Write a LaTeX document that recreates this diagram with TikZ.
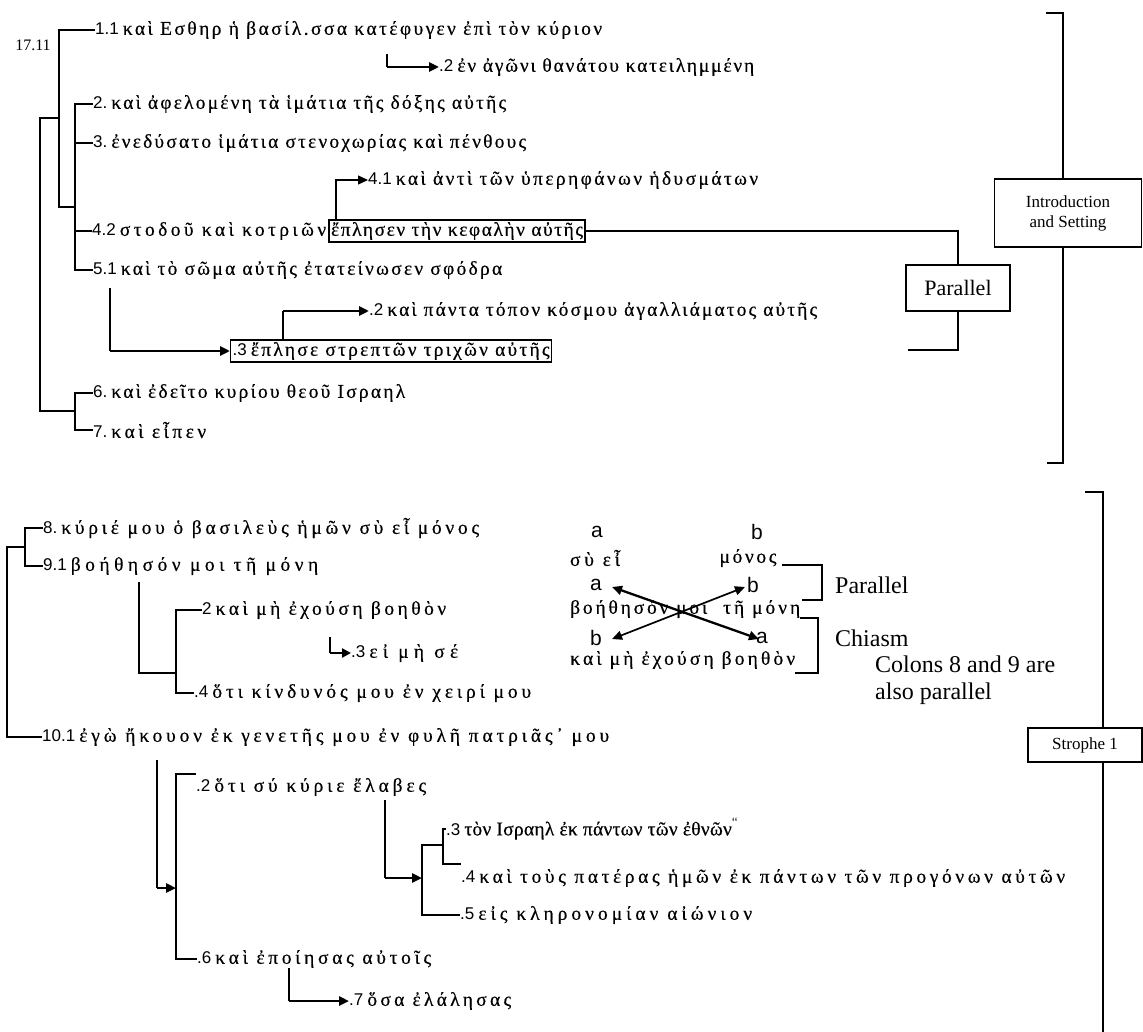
\documentclass[tikz,border=0pt]{standalone}
\usepackage{fontspec}
\setmainfont{Liberation Serif}
\newfontfamily\numf{Liberation Sans}
\newfontfamily\grkf[FakeBold=0.4]{Liberation Serif}
\usetikzlibrary{arrows.meta}
\newlength\Wn \newlength\Wa \newlength\Wb
\newcommand\gsz{\fontsize{19.5}{22}\selectfont}
\newcommand\nsz{\fontsize{17}{20}\selectfont}
% Greek text letter-spaced to a given width
\newcommand\gw[2]{%
  \settowidth\Wa{\grkf\gsz #2}%
  \settowidth\Wb{\grkf\gsz\addfontfeature{LetterSpace=10}#2}%
  \pgfmathsetmacro\lsv{max(-3,10*(#1-\Wa)/(\Wb-\Wa))}%
  {\grkf\gsz\addfontfeature{LetterSpace=\lsv}#2}}
% numbered line: number, total width, Greek text
\newcommand\glw[3]{%
  \settowidth\Wn{\numf\nsz #1\hspace{4pt}}%
  {\numf\nsz #1}\hspace{4pt}\gw{#2-\Wn}{#3}}
\tikzset{
  ln/.style={line width=1.3pt},
  thk/.style={line width=2.6pt},
  tip/.style={-{Triangle[length=10pt,width=9pt]}},
  dtip/.style={{Triangle[length=10pt,width=9pt]}-{Triangle[length=10pt,width=9pt]}},
  gt/.style={anchor=west,inner sep=0pt},
  bx/.style={draw,line width=1.3pt,inner sep=2pt},
  lab/.style={inner sep=0pt,font=\fontsize{24}{27}\selectfont},
  sm/.style={inner sep=0pt,font=\numf\fontsize{21}{23}\selectfont},
  gc/.style={inner sep=0pt},
}
\begin{document}
\begin{tikzpicture}[x=1pt,y=-1pt]
\useasboundingbox (0,0) rectangle (1143,1032);
% ---------------- top section ----------------
\node[inner sep=0pt,font=\fontsize{16}{18}\selectfont] (n1711) at (33,45) {17.11};
\node[gt] (t11) at (95,30) {\glw{1.1}{507}{καὶ Εσθηρ ἡ βασίλ.σσα κατέφυγεν ἐπὶ τὸν κύριον}};
\node[gt] (t12) at (439,67) {\glw{.2}{315}{ἐν ἀγῶνι θανάτου κατειλημμένη}};
\node[gt] (t2) at (93,104) {\glw{2.}{413}{καὶ ἀφελομένη τὰ ἱμάτια τῆς δόξης αὐτῆς}};
\node[gt] (t3) at (93,143) {\glw{3.}{433}{ἐνεδύσατο ἱμάτια στενοχωρίας καὶ πένθους}};
\node[gt] (t41) at (368,180) {\glw{4.1}{390}{καὶ ἀντὶ τῶν ὑπερηφάνων ἡδυσμάτων}};
\node[gt] (t42) at (92,231) {\glw{4.2}{234}{στοδοῦ καὶ κοτριῶν}};
\node[bx,anchor=base west] (t42b) at ([xshift=2pt]t42.base east) {\gw{252}{ἔπλησεν τὴν κεφαλὴν αὐτῆς}};
\node[gt] (t51) at (93,270) {\glw{5.1}{409}{καὶ τὸ σῶμα αὐτῆς ἐτατείνωσεν σφόδρα}};
\node[gt] (t52) at (369,311) {\glw{.2}{448}{καὶ πάντα τόπον κόσμου ἀγαλλιάματος αὐτῆς}};
\node[bx,anchor=west] (t53) at (230,351) {\glw{.3}{317}{ἔπλησε στρεπτῶν τριχῶν αὐτῆς}};
\node[gt] (t6) at (93,393) {\glw{6.}{312}{καὶ ἐδεῖτο κυρίου θεοῦ Ισραηλ}};
\node[gt] (t7) at (93,430) {\glw{7.}{113}{καὶ εἶπεν}};

\coordinate (A) at (59,0);
\coordinate (B) at (75,0);
\coordinate (C) at (40,0);
\coordinate (jAB) at (0,207);
\coordinate (jC) at (0,118);
\coordinate (jD) at (0,411);
\draw[ln] (t11.west) -- (A |- t11.west) -- (A |- jAB) -- (B |- jAB);
\draw[ln] (t2.west) -- (B |- t2.west) -- (B |- t51.west) -- (t51.west);
\draw[ln] (t3.west) -- (B |- t3.west);
\draw[ln] (t42.west) -- (B |- t42.west);
\draw[ln] (A |- jC) -- (C |- jC) -- (C |- jD) -- (B |- jD);
\draw[ln] (t6.west) -- (B |- t6.west) -- (B |- t7.west) -- (t7.west);

% arrows top
\coordinate (s12) at (387,54);
\draw[thk] (s12) -- (s12 |- t12.west);
\draw[thk,tip] (s12 |- t12.west) -- (t12.west);
\coordinate (s41) at (336,0);
\draw[ln,tip] (s41 |- t42b.north) |- (t41.west);
\coordinate (s51) at (110,288);
\draw[ln] (s51) -- (s51 |- t53.west);
\draw[thk,tip] (s51 |- t53.west) -- (t53.west);
\coordinate (s52) at (283,0);
\draw[ln] (s52 |- t53.north) -- (s52 |- t52.west);
\draw[thk,tip] (s52 |- t52.west) -- (t52.west);

% parallel / intro
\node[draw,ln,minimum width=104pt,minimum height=46pt,inner sep=0pt,font=\fontsize{22}{25}\selectfont] (par) at (958,288) {Parallel};
\coordinate (pe) at (908,350);
\draw[ln] (t42b.east) -| (par.north);
\draw[ln] (par.south) |- (pe);
\node[draw,ln,minimum width=147pt,minimum height=68pt,align=center,inner sep=0pt,font=\fontsize{17}{20}\selectfont] (intro) at (1068,213) {Introduction\\and Setting};
\coordinate (ib) at (1063,13);
\coordinate (ie1) at (1046,13);
\coordinate (ie2) at (1047,463);
\draw[ln] (ie1) -- (ib) -- (ib |- intro.north);
\draw[ln] (ib |- intro.south) -- (ib |- ie2) -- (ie2);

% ---------------- bottom section ----------------
\node[gt] (b8) at (43,528) {\glw{8.}{436}{κύριέ μου ὁ βασιλεὺς ἡμῶν σὺ εἶ μόνος}};
\node[gt] (b91) at (43,566) {\glw{9.1}{275}{βοήθησόν μοι τῆ μόνη}};
\node[gt] (b92) at (202,610) {\glw{2}{244}{καὶ μὴ ἐχούση βοηθὸν}};
\node[gt] (b93) at (351,653) {\glw{.3}{107}{εἰ μὴ σέ}};
\node[gt] (b94) at (194,693) {\glw{.4}{337}{ὅτι κίνδυνός μου ἐν χειρί μου}};
\node[gt] (b101) at (42,737) {\glw{10.1}{567}{ἐγὼ ἤκουον ἐκ γενετῆς μου ἐν φυλῆ πατριᾶς᾽ μου}};
\node[gt] (b102) at (196,787) {\glw{.2}{230}{ὅτι σύ κύριε ἔλαβες}};
\node[gt] (b103) at (446,829) {\glw{.3}{292}{τὸν Ισραηλ ἐκ πάντων τῶν ἐθνῶν\textsuperscript{\numf ‘‘}}};
\node[gt] (b104) at (461,878) {\glw{.4}{604}{καὶ τοὺς πατέρας ἡμῶν ἐκ πάντων τῶν προγόνων αὐτῶν}};
\node[gt] (b105) at (460,915) {\glw{.5}{292}{εἰς κληρονομίαν αἰώνιον}};
\node[gt] (b106) at (197,959) {\glw{.6}{234}{καὶ ἐποίησας αὐτοῖς}};
\node[gt] (b107) at (349,1001) {\glw{.7}{162}{ὅσα ἐλάλησας}};

\coordinate (E) at (25,0);
\coordinate (F) at (7,0);
\coordinate (G) at (176,0);
\coordinate (jE) at (0,547);
\draw[ln] (b8.west) -- (E |- b8.west) -- (E |- b91.west) -- (b91.west);
\draw[ln] (E |- jE) -- (F |- jE) -- (F |- b101.west) -- (b101.west);
\coordinate (s91) at (139,582);
\coordinate (jG) at (0,673);
\draw[ln] (s91) -- (s91 |- jG) -- (G |- jG);
\draw[ln] (b92.west) -- (G |- b92.west) -- (G |- b94.west) -- (b94.west);
\coordinate (s93) at (330,637);
\draw[ln] (s93) -- (s93 |- b93.west);
\draw[thk,-{Triangle[length=9pt,width=9pt]}] (s93 |- b93.west) -- (b93.west);

\coordinate (s101) at (157,760);
\coordinate (jH) at (0,888);
\coordinate (hT) at (0,774);
\draw[ln] (s101) -- (s101 |- jH);
\draw[thk,tip] (s101 |- jH) -- (G |- jH);
\draw[ln] (b102.west |- hT) -- (G |- hT) -- (G |- b106.west) -- (b106.west);

\coordinate (I) at (422,0);
\coordinate (J) at (443,0);
\coordinate (jI) at (0,845);
\coordinate (jJ) at (0,864);
\coordinate (s102) at (385,800);
\draw[ln] (s102) -- (s102 |- b104.west);
\draw[thk,tip] (s102 |- b104.west) -- (I |- b104.west);
\draw[ln] (b103.west) -- (J |- b103.west) -- (J |- jJ) -- (b104.west |- jJ);
\draw[ln] (J |- jI) -- (I |- jI) -- (I |- b105.west) -- (b105.west);
\coordinate (s106) at (289,968);
\draw[ln] (s106) -- (s106 |- b107.west);
\draw[thk,tip] (s106 |- b107.west) -- (b107.west);

% chiasm
\node[sm] (ca1) at (597,532) {a};
\node[gc] (cs1) at (595,558) {\gw{50}{σὺ εἶ}};
\node[sm] (cb1) at (757,532) {b};
\node[gc] (cs2) at (748,558) {\gw{57}{μόνος}};
\node[sm] (ca2) at (596,585) {a};
\node[sm] (cb2) at (753,585) {b};
\node[gc,anchor=west] (cs3) at (570,609) {\gw{137}{βοήθησόν μοι}};
\node[gc,anchor=west] (cs4) at (723,609) {\gw{77}{τῆ μόνη}};
\node[sm] (cb3) at (596,638) {b};
\node[sm] (ca3) at (762,638) {a};
\node[gc,anchor=west] (cs5) at (570,660) {\gw{225}{καὶ μὴ ἐχούση βοηθὸν}};
\draw[line width=2.3pt,dtip] ([xshift=10pt,yshift=-2pt]ca2.east) -- ([xshift=3pt,yshift=-1pt]ca3.west);
\draw[line width=1.7pt,dtip] ([xshift=10pt,yshift=-1pt]cb3.east) -- ([xshift=-2pt,yshift=-2pt]cb2.west);

\draw[ln] (782,565) -- (822,565) -- (822,600) -- (802,600);
\draw[ln] (800,618) -- (818,618) -- (818,673) -- (795,673);
\node[lab,anchor=west] (lpar) at (835,585) {Parallel};
\node[lab,anchor=west] (lchi) at (835,638) {Chiasm};
\node[lab,anchor=north west,align=left] (lcol) at (875,656) {Colons 8 and 9 are\\also parallel};

% strophe
\node[draw,ln,minimum width=114pt,minimum height=34pt,inner sep=0pt,font=\fontsize{17}{19}\selectfont] (stro) at (1085,745) {Strophe 1};
\coordinate (sx) at (1103,492);
\coordinate (sx0) at (1085,492);
\coordinate (sxe) at (1103,1032);
\draw[ln] (sx0) -- (sx) -- (sx |- stro.north);
\draw[ln] (sx |- stro.south) -- (sxe);
\end{tikzpicture}
\end{document}
